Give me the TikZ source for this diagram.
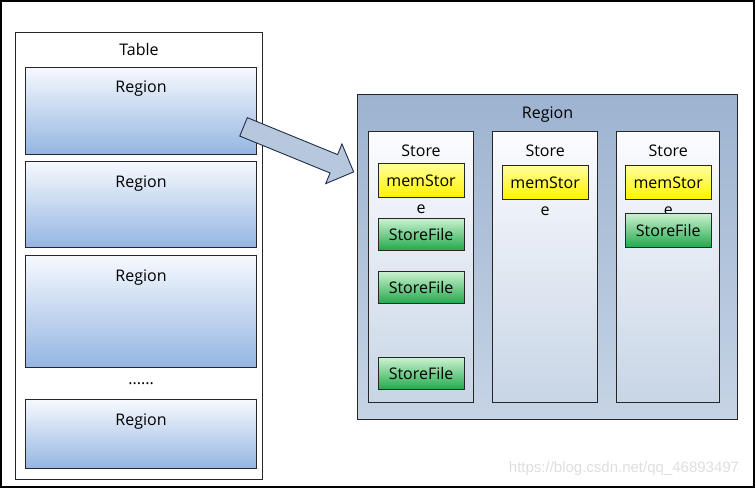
\documentclass[tikz,border=0pt]{standalone}
\usepackage{fontspec}
\setmainfont{Open Sans}
\newfontfamily\wmfont{Liberation Sans}
\usepackage{tikz}
\usetikzlibrary{shapes.arrows,calc,positioning}
\definecolor{regtop}{HTML}{F6F9FE}
\definecolor{regbot}{HTML}{94B5E2}
\definecolor{bigtop}{HTML}{9DB3D0}
\definecolor{bigbot}{HTML}{C6D4E5}
\definecolor{sttop}{HTML}{FBFCFE}
\definecolor{stbot}{HTML}{C8D5E6}
\definecolor{memtop}{HTML}{FFFF9A}
\definecolor{membot}{HTML}{FFF200}
\definecolor{sftop}{HTML}{C9F2CF}
\definecolor{sfbot}{HTML}{1FA84A}
\definecolor{arrfill}{HTML}{B7C7DC}
\definecolor{arrline}{HTML}{1F2D4D}

\begin{document}
\begin{tikzpicture}[x=1pt,y=-1pt,inner sep=0pt,font=\fontsize{16}{19}\selectfont]
	\tikzset{
		box/.style={draw=black!85,line width=1.1pt,anchor=north west},
		regbox/.style={box,top color=regtop,bottom color=regbot,minimum width=231pt,
			label={[anchor=center,yshift=-22pt]north:Region}},
		storebox/.style={box,top color=sttop,bottom color=stbot,minimum width=105pt,minimum height=271pt,
			label={[anchor=center,yshift=-20pt]north:Store}},
		memstore/.style={draw=black!85,line width=1.1pt,top color=memtop,bottom color=membot,
			minimum width=86pt,minimum height=34pt,label={[anchor=center,yshift=-11pt]south:e}},
		storefile/.style={draw=black!85,line width=1.1pt,top color=sftop,bottom color=sfbot,
			minimum width=86pt,minimum height=32pt},
		fatarrow/.style={single arrow,draw=arrline,line width=0.9pt,fill=arrfill,minimum height=119pt,
			inner xsep=0pt,inner ysep=9.5pt,single arrow head extend=11.5pt}
	}
	\useasboundingbox (0,0) rectangle (755,488);
	\draw[line width=2pt] (1,1) rectangle (754,487);

	\node[box,fill=white,minimum width=247pt,minimum height=447pt,
		label={[anchor=center,yshift=-17pt]north:Table}] (table) at (15,32) {};
	\node[regbox,minimum height=87pt] (r1) at (25,67) {};
	\node[regbox,minimum height=86pt,below=6pt of r1] (r2) {};
	\node[regbox,minimum height=112pt,below=7pt of r2] (r3) {};
	\node[below=14pt of r3] (dots) {......};
	\node[regbox,minimum height=69pt,below=31pt of r3] (r4) {};

	\node[box,top color=bigtop,bottom color=bigbot,minimum width=380pt,minimum height=325pt,
		label={[anchor=center,yshift=-21pt]north:Region}] (reg) at (357,94) {};
	\node[storebox] (st1) at (368,131) {};
	\node[storebox,right=18pt of st1] (st2) {};
	\node[storebox,minimum width=103pt,right=18pt of st2] (st3) {};

	\node[memstore,below=32pt of st1.north] (m1) {memStor};
	\node[memstore,below=34pt of st2.north] (m2) {memStor};
	\node[memstore,below=34pt of st3.north] (m3) {memStor};
	\node[storefile,below=20pt of m1] (f1) {StoreFile};
	\node[storefile,below=20pt of f1] (f2) {StoreFile};
	\node[storefile,below=53pt of f2] (f3) {StoreFile};
	\node[storefile,minimum height=34pt,below=13pt of m3] (f4) {StoreFile};

	\coordinate (atail) at (239,125);
	\coordinate (ahead) at (349,170);
	\node[fatarrow,rotate=-22.25] (arr) at ($(atail)!0.5!(ahead)$) {};

	\node[font=\wmfont\fontsize{15}{18}\selectfont,text=black!13] (wm) at (624,469) {https://blog.csdn.net/qq\_46893497};
\end{tikzpicture}
\end{document}
